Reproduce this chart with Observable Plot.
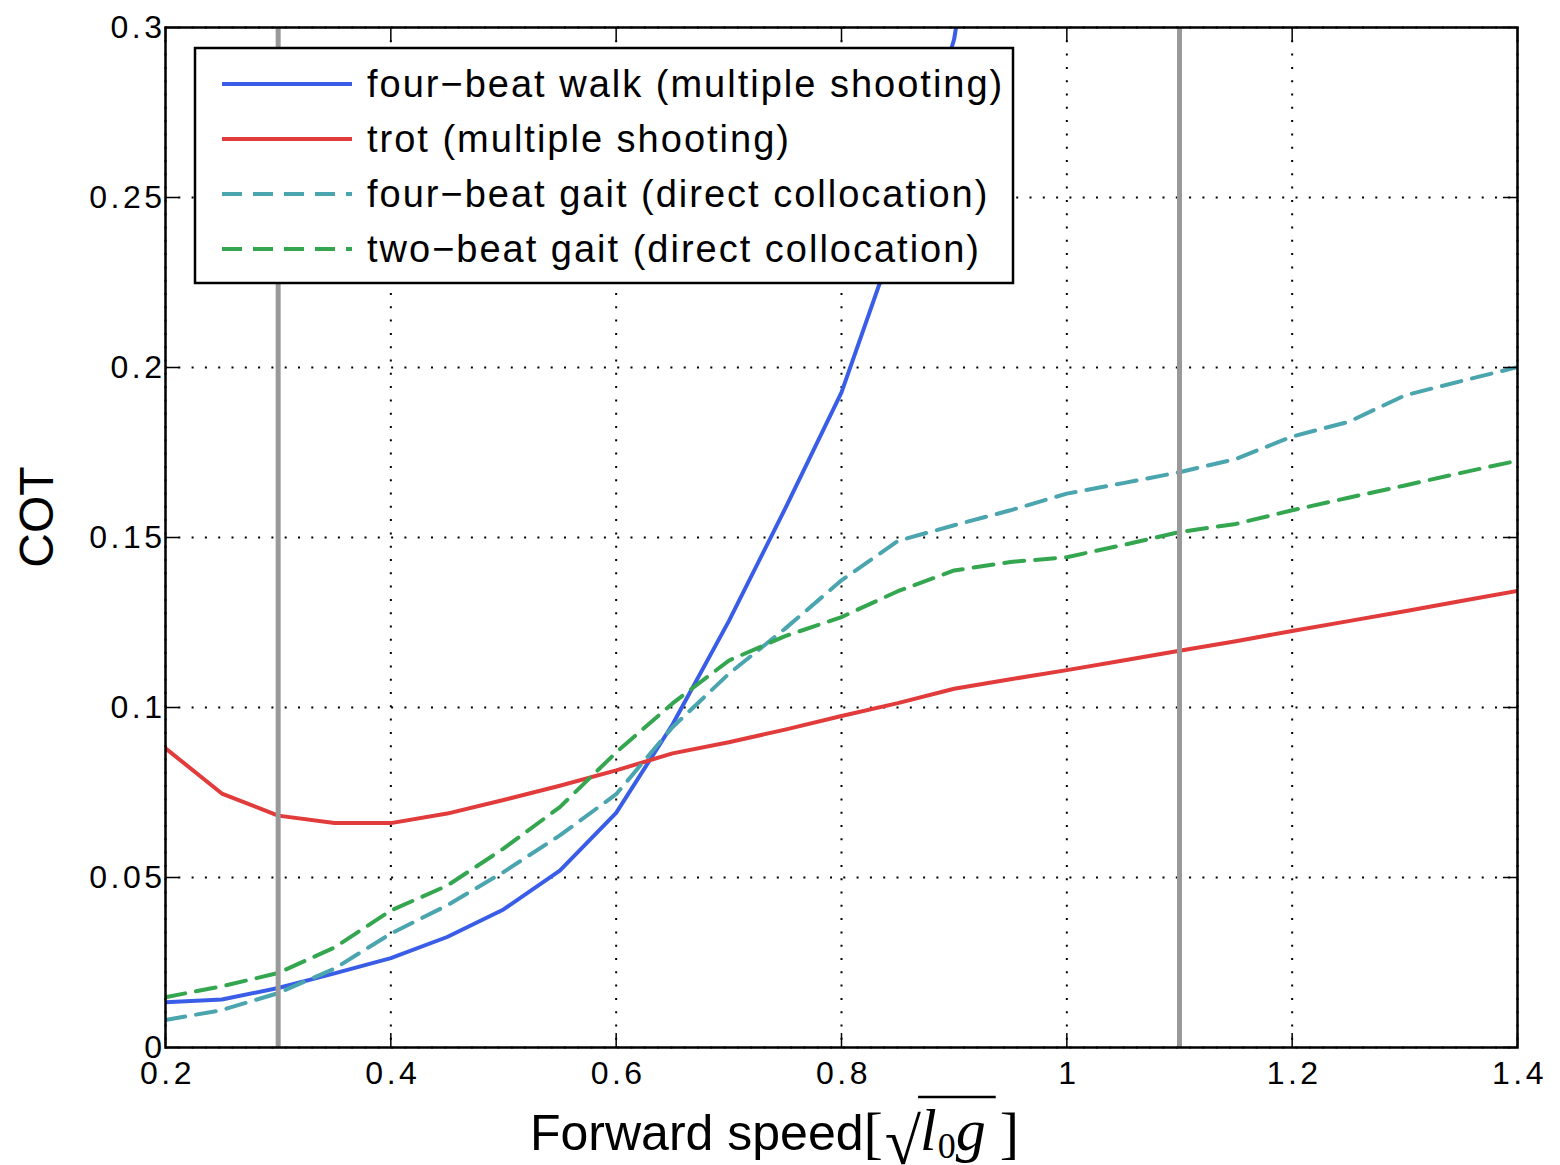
<!DOCTYPE html>
<html>
<head>
<meta charset="utf-8">
<script src="https://cdn.jsdelivr.net/npm/d3@7"></script>
<script src="https://cdn.jsdelivr.net/npm/@observablehq/plot@0.6"></script>
<style>
  html, body { margin: 0; padding: 0; background: #fff; }
  #chart svg { display: block; }
</style>
</head>
<body>
<div id="chart"></div>
<script>
// Cost of transport (COT) versus forward speed for several quadruped gaits.

// Forward speeds at which each gait was optimised
const speeds = [0.2, 0.25, 0.3, 0.35, 0.4, 0.45, 0.5, 0.55, 0.6, 0.65, 0.7, 0.75,
                0.8, 0.85, 0.9, 0.95, 1.0, 1.05, 1.1, 1.15, 1.2, 1.25, 1.3, 1.35, 1.4];
const walkSpeeds = [0.2, 0.25, 0.3, 0.35, 0.4, 0.45, 0.5, 0.55, 0.6, 0.65, 0.7, 0.75,
                    0.8, 0.85, 0.9, 0.95];

// four-beat walk (multiple shooting)
const walkCot = [0.0133, 0.0141, 0.0175, 0.0218, 0.0263, 0.0325, 0.0406, 0.0520, 0.0690,
                 0.0950, 0.1254, 0.1585, 0.1927, 0.2400, 0.2966, 0.4000];
// trot (multiple shooting)
const trotCot = [0.0880, 0.0747, 0.0682, 0.0660, 0.0660, 0.0688, 0.0728, 0.0770, 0.0815,
                 0.0865, 0.0898, 0.0935, 0.0975, 0.1013, 0.1055, 0.1083, 0.1110, 0.1138,
                 0.1167, 0.1195, 0.1225, 0.1254, 0.1283, 0.1313, 0.1343];
// four-beat gait (direct collocation)
const fourBeatCot = [0.0081, 0.0110, 0.0160, 0.0232, 0.0335, 0.0418, 0.0516, 0.0624, 0.0745,
                     0.0942, 0.1099, 0.1232, 0.1374, 0.1490, 0.1536, 0.1580, 0.1629, 0.1660,
                     0.1692, 0.1731, 0.1797, 0.1840, 0.1918, 0.1960, 0.2001];
// two-beat gait (direct collocation)
const twoBeatCot = [0.0148, 0.0180, 0.0219, 0.0294, 0.0403, 0.0476, 0.0585, 0.0707, 0.0868,
                    0.1012, 0.1138, 0.1210, 0.1266, 0.1342, 0.1403, 0.1428, 0.1442, 0.1478,
                    0.1516, 0.1540, 0.1580, 0.1617, 0.1653, 0.1690, 0.1726];

const seriesNames = [
  "four\u2212beat walk (multiple shooting)",
  "trot (multiple shooting)",
  "four\u2212beat gait (direct collocation)",
  "two\u2212beat gait (direct collocation)"
];
const seriesColors = ["#3a5de8", "#e13b3b", "#4aa5ae", "#33a64f"];
const seriesDashed = [false, false, true, true];

// Vertical guide lines marking the speed range of interest
const guideSpeeds = [0.3, 1.1];

// Axis ticks
const xTicks = [0.2, 0.4, 0.6, 0.8, 1.0, 1.2, 1.4];
const yTicks = [0, 0.05, 0.1, 0.15, 0.2, 0.25, 0.3];

const W = 1560, H = 1165;
const mTop = 27, mRight = 43, mBottom = 118, mLeft = 165;
const plotH = H - mTop - mBottom, plotW = W - mLeft - mRight;
const tickLen = 14;
const DASH = "20,11";
const LINE_W = 4;
const FONT = "'Liberation Sans', Arial, Helvetica, sans-serif";
const SERIF = "'Liberation Serif', 'Times New Roman', serif";

const tableOf = (xs, ys) => xs.map((x, i) => ({x, y: ys[i]}));
const seriesData = [
  tableOf(walkSpeeds, walkCot),
  tableOf(speeds, trotCot),
  tableOf(speeds, fourBeatCot),
  tableOf(speeds, twoBeatCot)
];

const fmt = d => d === 0 ? "0" : String(+d.toFixed(2));

const dottedGrid = {stroke: "#000", strokeOpacity: 1, strokeWidth: 2, strokeDasharray: "2,11.3"};

const lineMarks = seriesData.map((data, i) =>
  Plot.line(data, {
    x: "x", y: "y",
    stroke: seriesColors[i],
    strokeWidth: LINE_W,
    strokeDasharray: seriesDashed[i] ? DASH : null,
    clip: true
  })
);

const chart = Plot.plot({
  width: W,
  height: H,
  marginTop: mTop,
  marginRight: mRight,
  marginBottom: mBottom,
  marginLeft: mLeft,
  style: {fontFamily: FONT, background: "#fff", color: "#000"},
  x: {domain: [0.2, 1.4]},
  y: {domain: [0, 0.3]},
  marks: [
    Plot.gridX(xTicks, dottedGrid),
    Plot.gridY(yTicks, dottedGrid),
    ...lineMarks,
    Plot.ruleX(guideSpeeds, {stroke: "#999", strokeWidth: 5}),
    // inward ticks on all four sides
    Plot.ruleX(xTicks, {insetTop: plotH - tickLen, stroke: "#000", strokeWidth: 1.5}),
    Plot.ruleX(xTicks, {insetBottom: plotH - tickLen, stroke: "#000", strokeWidth: 1.5}),
    Plot.ruleY(yTicks, {insetRight: plotW - tickLen, stroke: "#000", strokeWidth: 1.5}),
    Plot.ruleY(yTicks, {insetLeft: plotW - tickLen, stroke: "#000", strokeWidth: 1.5}),
    Plot.frame({stroke: "#000", strokeWidth: 2.5}),
    Plot.axisX(xTicks, {tickSize: 0, tickPadding: 14, fontSize: 32, tickFormat: fmt, label: null, dx: 2}),
    Plot.axisY(yTicks, {tickSize: 0, tickPadding: 3, fontSize: 32, tickFormat: fmt, label: null, dx: 3})
  ]
});

document.getElementById("chart").appendChild(chart);
const svg = d3.select(chart);

// widen tick label spacing
svg.selectAll('g[aria-label="x-axis tick label"] text, g[aria-label="y-axis tick label"] text')
  .attr("letter-spacing", 3.5);

// y-axis title
svg.append("text")
  .attr("transform", `translate(36,${mTop + plotH / 2 - 20}) rotate(-90)`)
  .attr("text-anchor", "middle")
  .attr("dominant-baseline", "central")
  .attr("font-family", FONT)
  .attr("font-size", 48)
  .attr("fill", "#000")
  .text("COT");

// x-axis title: Forward speed[ sqrt(l0 g) ]
(function xTitle() {
  const base = 1150;
  const g = svg.append("g").attr("fill", "#000").attr("text-anchor", "start");
  let x = 530;
  const put = (txt, opts) => {
    const t = g.append("text")
      .attr("x", x + (opts.dx || 0))
      .attr("y", base + (opts.dy || 0))
      .attr("text-anchor", "start")
      .attr("font-family", opts.family || FONT)
      .attr("font-size", opts.size)
      .attr("font-style", opts.italic ? "italic" : "normal")
      .text(txt);
    const w = t.node().getComputedTextLength();
    x += w + (opts.dx || 0) + (opts.after || 0);
    return t;
  };
  put("Forward speed", {size: 50});
  put("[", {size: 58, family: SERIF, dy: 2, after: 2});
  put("\u221A", {size: 66, family: SERIF, dy: 14, after: -1});
  const barStart = x;
  put("l", {size: 60, family: SERIF, italic: true, after: 1});
  put("0", {size: 36, family: SERIF, dy: 8});
  put("g", {size: 60, family: SERIF, italic: true, after: 4});
  const barEnd = x + 6;
  g.append("line")
    .attr("x1", barStart - 2).attr("x2", barEnd)
    .attr("y1", 1097).attr("y2", 1097)
    .attr("stroke", "#000").attr("stroke-width", 2.5);
  x += 10;
  put("]", {size: 58, family: SERIF, dy: 2});
})();

// legend box drawn over the plot area
(function legend() {
  const g = svg.append("g").attr("text-anchor", "start");
  g.append("rect")
    .attr("x", 195).attr("y", 48).attr("width", 818).attr("height", 235)
    .attr("fill", "#fff").attr("stroke", "#000").attr("stroke-width", 2.5);
  seriesNames.forEach((name, i) => {
    const y = 84 + i * 55;
    g.append("line")
      .attr("x1", 222).attr("x2", 352).attr("y1", y).attr("y2", y)
      .attr("stroke", seriesColors[i]).attr("stroke-width", LINE_W)
      .attr("stroke-dasharray", seriesDashed[i] ? DASH : null);
    g.append("text")
      .attr("x", 367).attr("y", y + 13)
      .attr("text-anchor", "start")
      .attr("font-family", FONT).attr("font-size", 38)
      .attr("letter-spacing", 2)
      .attr("fill", "#000")
      .text(name);
  });
})();
</script>
</body>
</html>
